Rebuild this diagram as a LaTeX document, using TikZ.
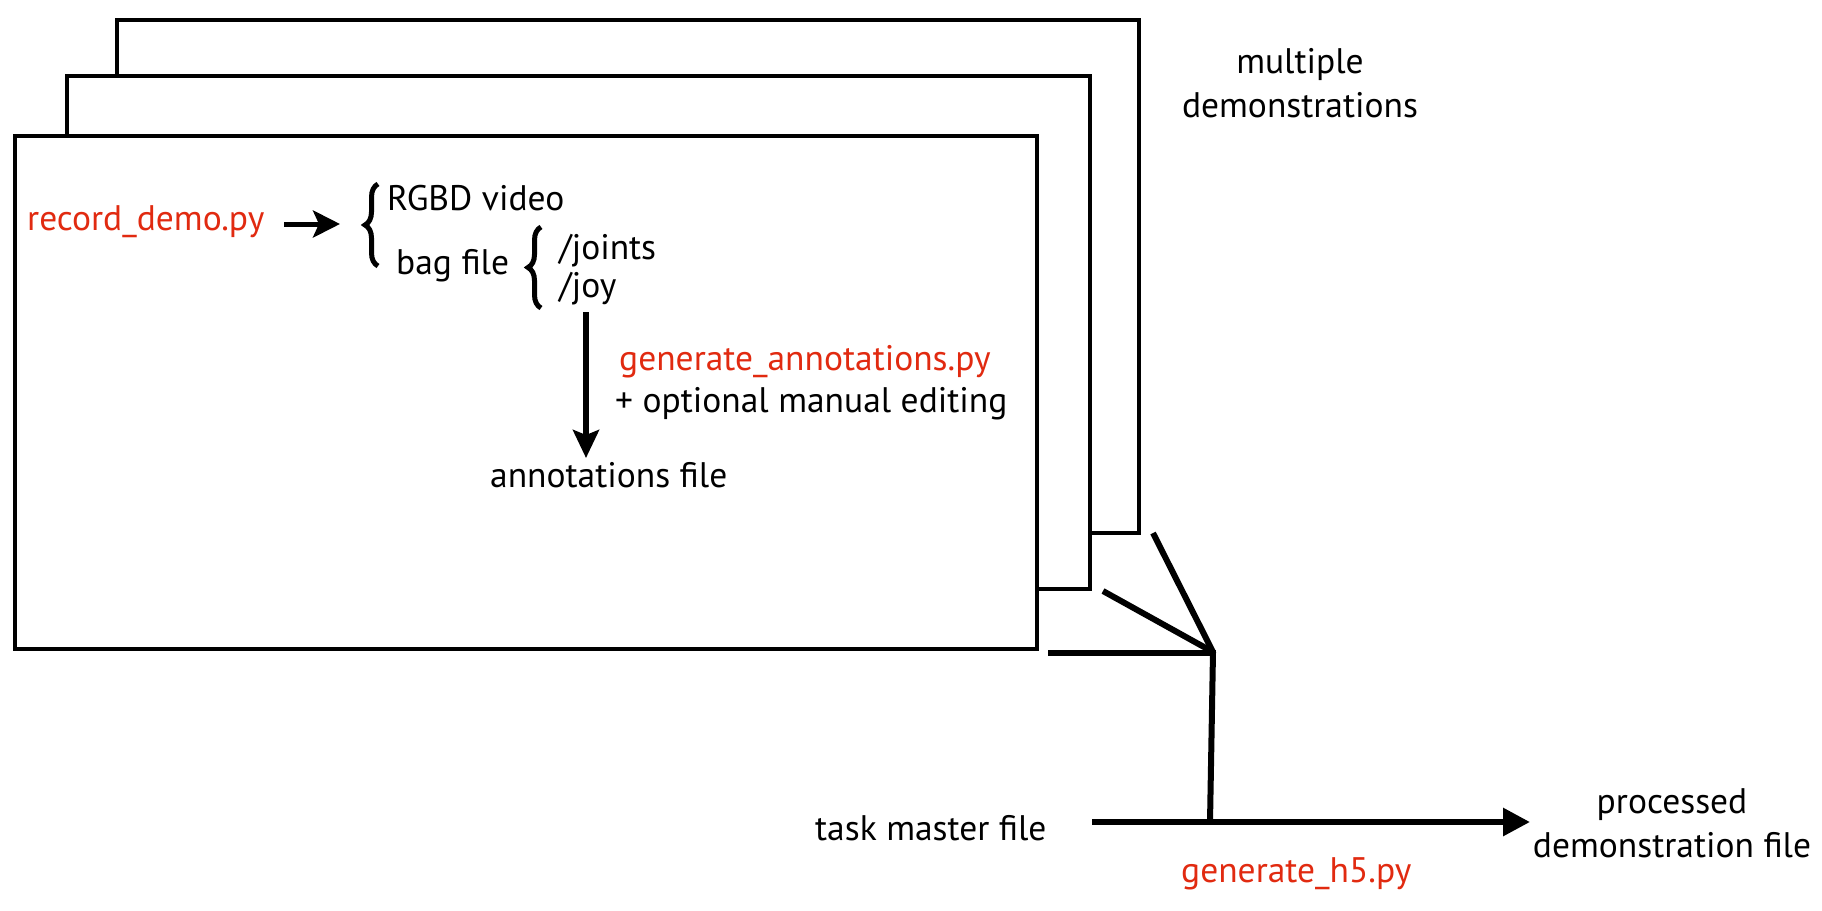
\documentclass[tikz,border=0pt]{standalone}
\usepackage{fontspec}
\setmainfont{PT Sans}
\usetikzlibrary{arrows.meta,decorations.pathreplacing,calc}
\definecolor{codered}{RGB}{225,42,16}
\begin{document}
\begin{tikzpicture}[x=1pt,y=-1pt,
  demobox/.style={draw=black,line width=3.5pt,fill=white,anchor=north west,inner sep=0pt},
  conn/.style={line width=6pt},
  lbl/.style={inner sep=0pt,font=\fontsize{35.5}{44}\selectfont},
  code/.style={lbl,text=codered},
  bracestyle/.style={line width=5pt,decorate,decoration={brace,amplitude=13pt,aspect=0.5}},
]
\useasboundingbox (0,0) rectangle (1822,910);
% stacked demonstration boxes
\node[demobox,minimum width=1022pt,minimum height=513pt] (back) at (115,18) {};
\node[demobox,minimum width=1023pt,minimum height=513pt] (mid) at (65,74) {};
\node[demobox,minimum width=1022pt,minimum height=513pt] (front) at (13,134) {};

% texts inside front box
\node[code,anchor=base west] (rec) at (27,230) {record\_demo.py};
\node[lbl,anchor=base west] (rgbd) at (387,210) {RGBD video};
\node[lbl,anchor=base west] (bag) at (396,274) {bag file};
\node[lbl,anchor=base west] (joints) at (559,259) {/joints};
\node[lbl,anchor=base west] (joy) at (559,297) {/joy};
\node[code,anchor=base west] (gena) at (619,370) {generate\_annotations.py};
\node[lbl,anchor=base west] (opt) at (615,412) {+ optional manual editing};
\node[lbl,anchor=base west] (annot) at (490,487) {annotations file};

% braces
\coordinate (b1bot) at (378,266);
\coordinate (b1top) at (378,184);
\draw[bracestyle] (b1bot) -- (b1top);
\coordinate (b2bot) at (541,308);
\coordinate (b2top) at (541,227);
\draw[bracestyle] (b2bot) -- (b2top);

% arrows in front box
\coordinate (recend) at (284,224);
\coordinate (b1tip) at (340,224);
\draw[line width=5pt,-{Stealth[length=27pt,width=27pt,inset=6pt]}] (recend) -- (b1tip);
\coordinate (joybot) at (586,312);
\coordinate (annottop) at (586,458);
\draw[line width=5.5pt,-{Stealth[length=28pt,width=26pt,inset=5pt]}] (joybot) -- (annottop);

% right side labels
\node[lbl,align=center,anchor=base] (multi) at (1300,117) {multiple\\demonstrations};

% junction lines
\coordinate (j) at (1213,652);
\coordinate (l1s) at (1153,533);
\coordinate (l2s) at (1103,591);
\coordinate (l3s) at (1048,653);
\coordinate (l3e) at (1216,653);
\draw[conn] (l1s) -- (j);
\draw[conn] (l2s) -- (j);
\draw[conn] (l3s) -- (l3e);
\coordinate (m) at (1210,822);
\draw[conn] (j) -- (m);

% bottom
\node[lbl,anchor=base west] (task) at (815,840) {task master file};
\coordinate (taskend) at (1092,822);
\node[lbl,align=center,anchor=base] (proc) at (1672,857) {processed\\demonstration file};
\coordinate (tip) at (1530,822);
\draw[conn,-{Triangle[length=27pt,width=27pt]}] (taskend) -- (tip);
\node[code,anchor=base west] (h5) at (1181,882) {generate\_h5.py};
\end{tikzpicture}
\end{document}
